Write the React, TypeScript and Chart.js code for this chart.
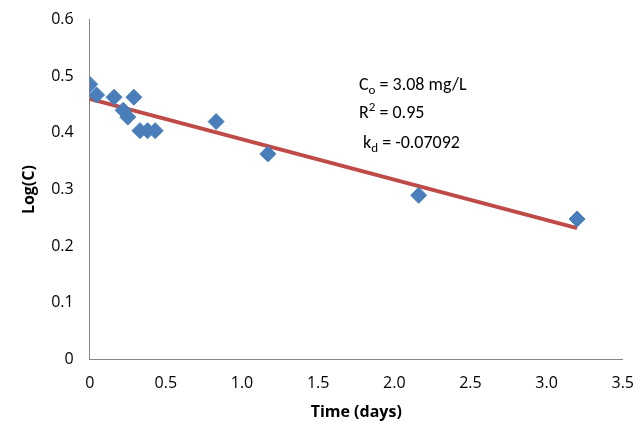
import React, { useEffect, useRef } from "react";
import { Chart, registerables } from "chart.js";
Chart.register(...registerables);

const timeDays = [0, 0.045, 0.16, 0.29, 0.22, 0.25, 0.33, 0.38, 0.43, 0.83, 1.17, 2.16, 3.2];
const logC = [0.486, 0.467, 0.463, 0.463, 0.44, 0.428, 0.404, 0.404, 0.404, 0.42, 0.363, 0.29, 0.248];
const fitX = [0, 3.2];
const fitY = [0.46, 0.232];

const annot = {
  id: "annot",
  afterDraw(chart: any) {
    const c = chart.ctx;
    c.save();
    c.fillStyle = "#000";
    c.textBaseline = "alphabetic";
    const f = (s: number) => `${s}px Calibri, Carlito, "Open Sans", Arial, sans-serif`;
    const seg = (parts: [string, number, number][], x: number, y: number) => {
      for (const [t, size, dy] of parts) {
        c.font = f(size);
        c.fillText(t, x, y + dy);
        x += c.measureText(t).width;
      }
    };
    seg([["C", 18, 0], ["o", 13, 4], [" = 3.08 mg/L", 18, 0]], 351, 88);
    seg([["R", 18, 0], ["2", 13, -7], [" = 0.95", 18, 0]], 351, 116);
    seg([[" k", 18, 0], ["d", 13, 4], [" = -0.07092", 18, 0]], 351, 146);
    c.restore();
  },
};

export default function App() {
  const ref = useRef<HTMLCanvasElement>(null);
  useEffect(() => {
    const font = { family: '"Open Sans", Arial, sans-serif', size: 16 };
    const ch = new Chart(ref.current!, {
      type: "scatter",
      data: {
        datasets: [
          {
            data: timeDays.map((x, i) => ({ x, y: logC[i] })),
            pointStyle: "rectRot",
            pointRadius: 8,
            backgroundColor: "#4a7ebb",
            borderColor: "#4a7ebb",
          },
          {
            type: "line",
            data: fitX.map((x, i) => ({ x, y: fitY[i] })),
            borderColor: "#be4b48",
            borderWidth: 4,
            pointRadius: 0,
          } as any,
        ],
      },
      options: {
        animation: false,
        responsive: false,
        layout: { padding: { top: 0, right: 0, left: 8 } },
        plugins: { legend: { display: false }, tooltip: { enabled: false } },
        scales: {
          x: {
            min: 0, max: 3.5,
            ticks: { stepSize: 0.5, color: "#000", font, padding: 6 },
            grid: { display: false, drawTicks: true },
            border: { color: "#868686" },
            title: { display: true, text: "Time (days)", color: "#000", font: { ...font, weight: "bold" } },
          },
          y: {
            min: 0, max: 0.6,
            ticks: { stepSize: 0.1, color: "#000", font, padding: 8, callback: (v: any) => (v === 0 ? "0" : Number(v).toFixed(1)) },
            grid: { display: false },
            border: { color: "#868686" },
            title: { display: true, text: "Log(C)", color: "#000", font: { ...font, weight: "bold" } },
          },
        },
      },
      plugins: [annot],
    });
    return () => ch.destroy();
  }, []);
  return <canvas ref={ref} width={632} height={424} style={{ background: "#fff", display: "block", marginTop: -6 }} />;
}
